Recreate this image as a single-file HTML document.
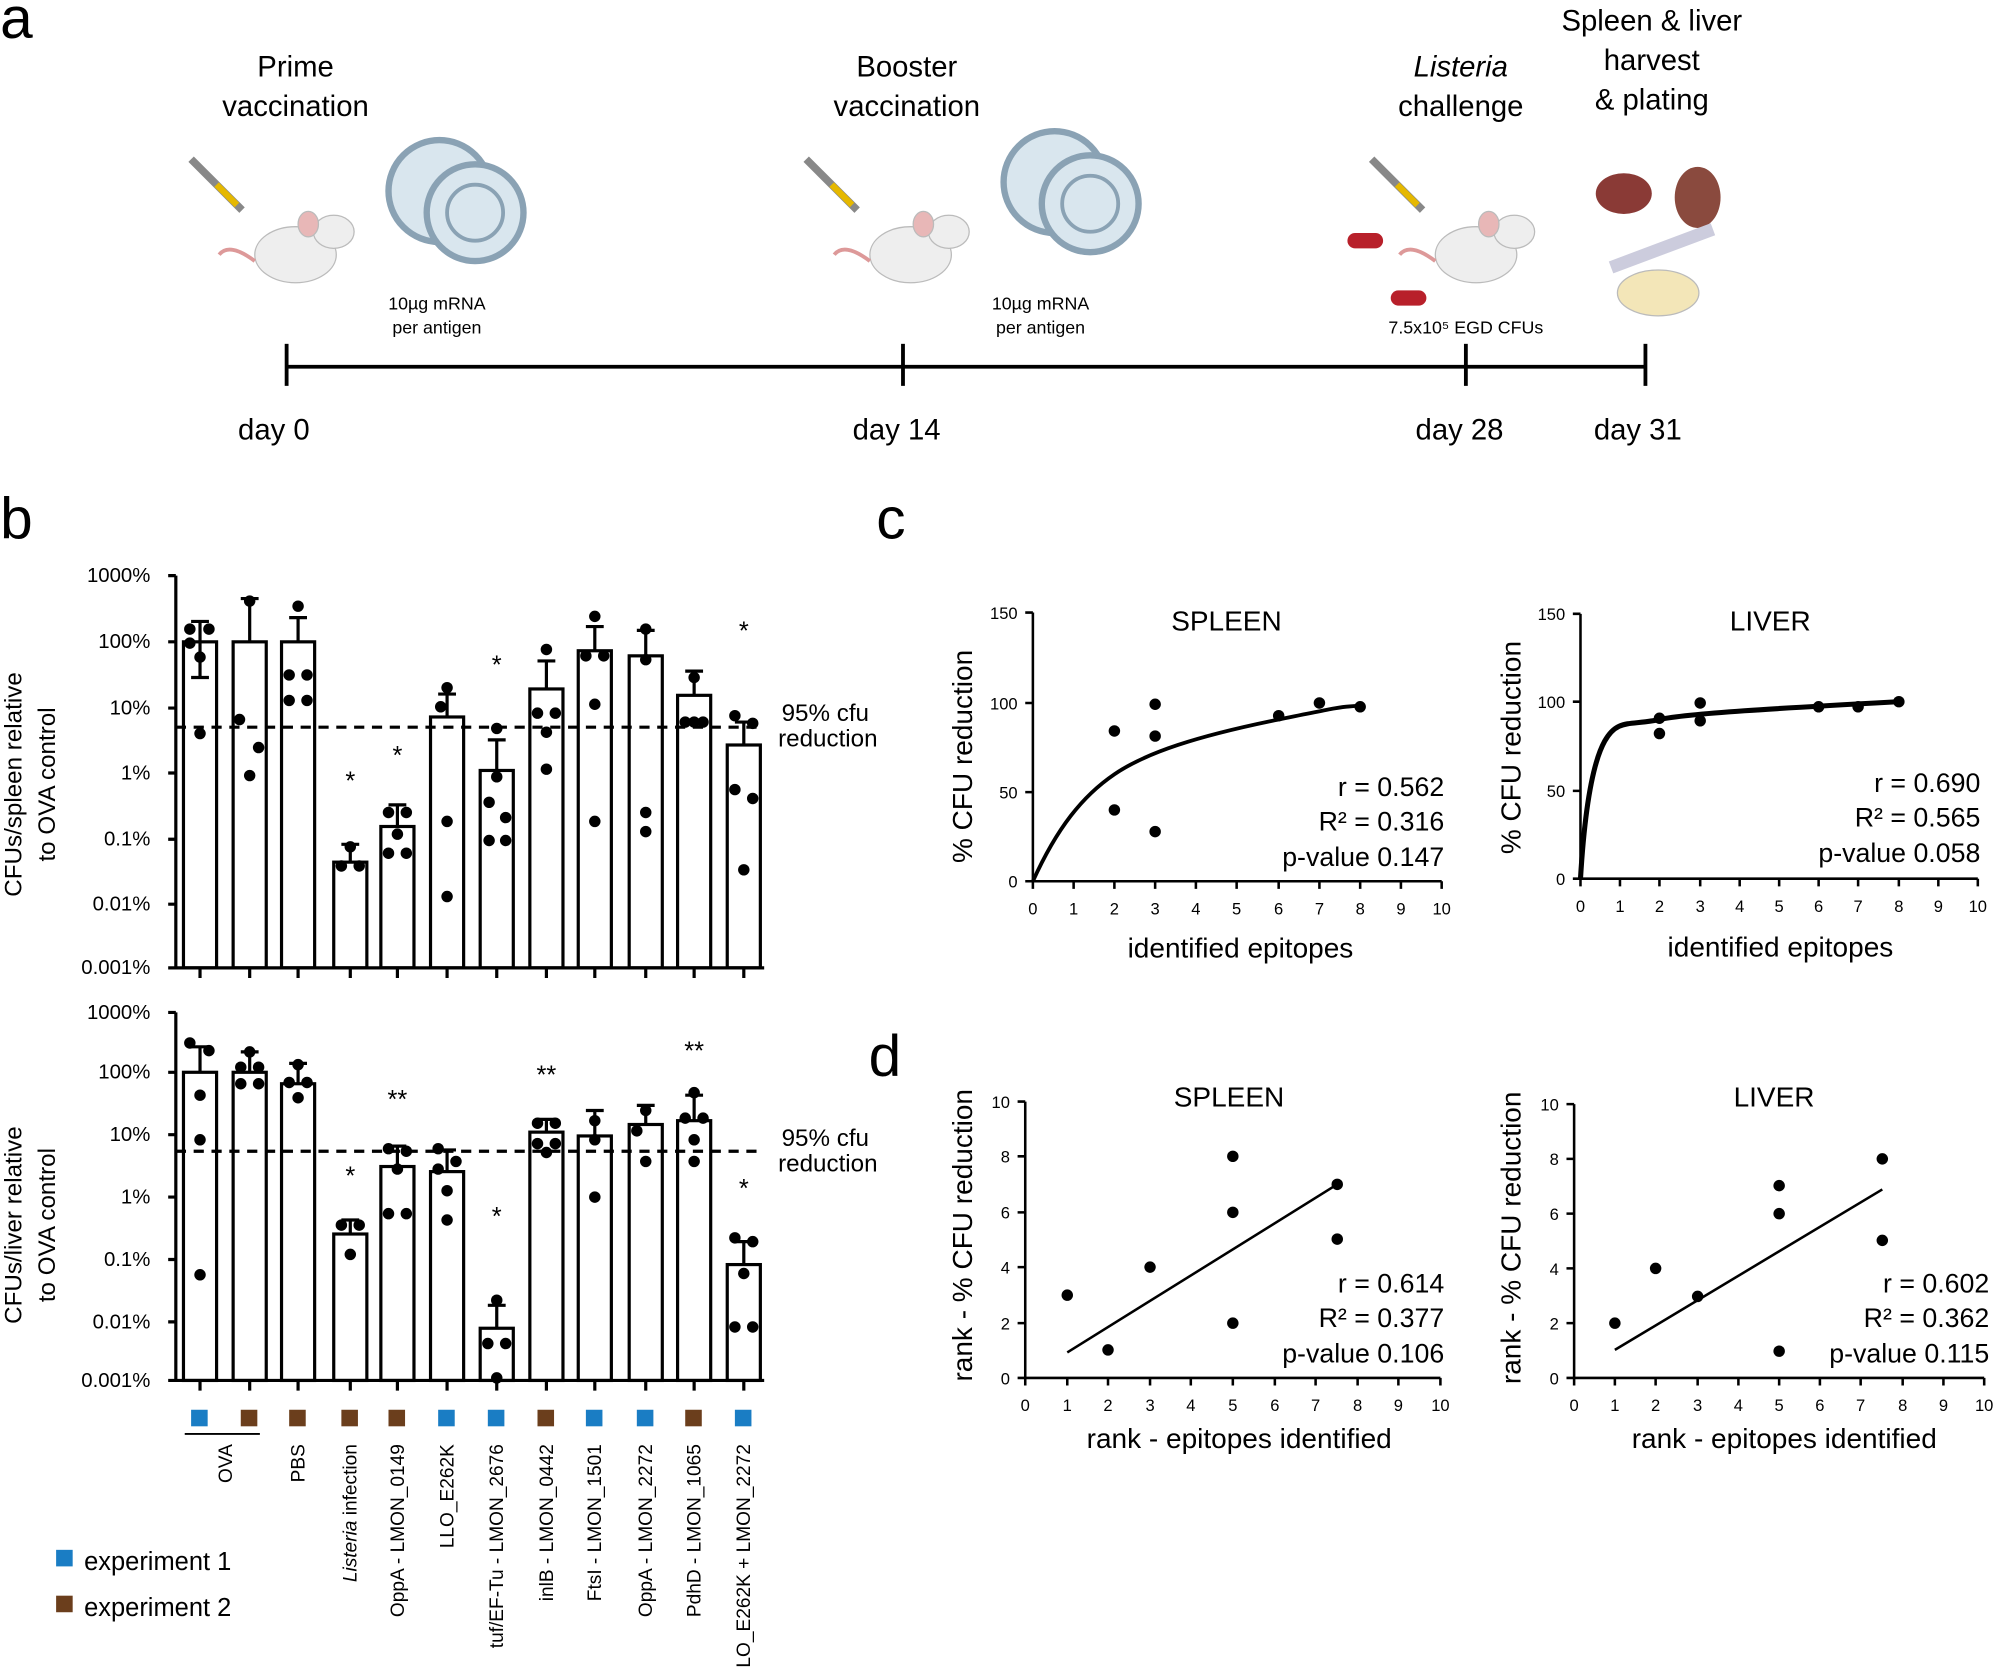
<!DOCTYPE html>
<html><head><meta charset="utf-8"><style>
html,body{margin:0;padding:0;background:#fff}
svg{display:block}
text{font-family:"Liberation Sans",sans-serif;fill:#000}
</style></head><body>
<svg width="1997" height="1667" viewBox="0 0 1568 1309" xmlns="http://www.w3.org/2000/svg">
<g font-size="46"><text x="0" y="30">a</text><text x="0" y="423">b</text><text x="688" y="423">c</text><text x="682" y="845">d</text></g>

<!-- panel a -->
<g font-size="23" text-anchor="middle">
<text x="232" y="60">Prime</text><text x="232" y="91">vaccination</text>
<text x="712" y="60">Booster</text><text x="712" y="91">vaccination</text>
<text x="1147" y="60" font-style="italic">Listeria</text><text x="1147" y="91">challenge</text>
<text x="1297" y="24">Spleen &amp; liver</text><text x="1297" y="55">harvest</text><text x="1297" y="86">&amp; plating</text>
<text x="215" y="345">day 0</text><text x="704" y="345">day 14</text><text x="1146" y="345">day 28</text><text x="1286" y="345">day 31</text>
</g>
<g font-size="14" text-anchor="middle">
<text x="343" y="243">10µg mRNA</text><text x="343" y="262">per antigen</text>
<text x="817" y="243">10µg mRNA</text><text x="817" y="262">per antigen</text>
<text x="1151" y="262">7.5x10⁵ EGD CFUs</text>
</g>
<g stroke="#000" stroke-width="3"><line x1="225" y1="288" x2="1292" y2="288"/>
<line x1="225" y1="270" x2="225" y2="303"/><line x1="709" y1="270" x2="709" y2="303"/><line x1="1151" y1="270" x2="1151" y2="303"/><line x1="1292" y1="270" x2="1292" y2="303"/></g>
<!-- mice & LNPs -->
<g id="mouse">
<ellipse cx="232" cy="200" rx="32" ry="22" fill="#eeeeee" stroke="#bbb"/>
<ellipse cx="262" cy="182" rx="16" ry="13" fill="#eeeeee" stroke="#bbb"/>
<ellipse cx="242" cy="176" rx="8" ry="10" fill="#e8b7b7" stroke="#bbb"/>
<path d="M200 205 Q180 190 172 200" stroke="#d99" stroke-width="3" fill="none"/>
<line x1="150" y1="125" x2="190" y2="165" stroke="#888" stroke-width="6"/>
<line x1="170" y1="145" x2="186" y2="161" stroke="#e5b800" stroke-width="5"/>
</g>
<use href="#mouse" x="483"/><use href="#mouse" x="927"/>
<g id="lnp" fill="#d9e6ee" stroke="#8aa2b4" stroke-width="5">
<circle cx="345" cy="150" r="40"/><circle cx="373" cy="167" r="38"/>
<circle cx="373" cy="167" r="22" fill="none" stroke-width="3"/></g>
<use href="#lnp" x="483" y="-7"/>
<g fill="#b8202a"><rect x="1058" y="183" width="28" height="12" rx="6"/><rect x="1092" y="228" width="28" height="12" rx="6"/></g>
<ellipse cx="1275" cy="152" rx="22" ry="16" fill="#8a3a36"/><ellipse cx="1333" cy="155" rx="18" ry="24" fill="#8a4a3e"/>
<ellipse cx="1302" cy="230" rx="32" ry="18" fill="#f3e6b8" stroke="#bbb"/>
<line x1="1265" y1="210" x2="1345" y2="180" stroke="#ccd" stroke-width="10"/>

<!-- panel b top -->
<g font-size="16" text-anchor="end">
<text x="118" y="457">1000%</text><text x="118" y="509">100%</text><text x="118" y="561">10%</text><text x="118" y="612">1%</text><text x="118" y="664">0.1%</text><text x="118" y="715">0.01%</text><text x="118" y="765">0.001%</text>
<text x="118" y="800">1000%</text><text x="118" y="847">100%</text><text x="118" y="896">10%</text><text x="118" y="945">1%</text><text x="118" y="994">0.1%</text><text x="118" y="1043">0.01%</text><text x="118" y="1089">0.001%</text>
</g>
<g font-size="19" text-anchor="middle">
<text transform="translate(17,616) rotate(-90)">CFUs/spleen relative</text>
<text transform="translate(43,616) rotate(-90)">to OVA control</text>
<text transform="translate(17,962) rotate(-90)">CFUs/liver relative</text>
<text transform="translate(43,962) rotate(-90)">to OVA control</text>
<text x="648" y="566">95% cfu</text><text x="650" y="586">reduction</text>
<text x="648" y="900">95% cfu</text><text x="650" y="920">reduction</text>
</g>
<g stroke="#000" stroke-width="2.5" fill="none">
<path d="M138 452V760H600"/><path d="M132 452H138M132 504H138M132 556H138M132 607H138M132 659H138M132 710H138M132 760H138"/>
<path d="M138 795V1084H600"/><path d="M132 795H138M132 842H138M132 891H138M132 940H138M132 989H138M132 1038H138M132 1084H138"/>
<path d="M157 760v8M196 760v8M234 760v8M275 760v8M312 760v8M351 760v8M390 760v8M429 760v8M467 760v8M507 760v8M545 760v8M584 760v8"/>
<path d="M157 1084v8M196 1084v8M234 1084v8M275 1084v8M312 1084v8M351 1084v8M390 1084v8M429 1084v8M467 1084v8M507 1084v8M545 1084v8M584 1084v8"/>
<!-- top bars -->
<rect x="144" y="504" width="26" height="256"/><rect x="183" y="504" width="26" height="256"/><rect x="221" y="504" width="26" height="256"/>
<rect x="262" y="677" width="26" height="83"/><rect x="299" y="649" width="26" height="111"/><rect x="338" y="563" width="26" height="197"/>
<rect x="377" y="605" width="26" height="155"/><rect x="416" y="541" width="26" height="219"/><rect x="454" y="511" width="26" height="249"/>
<rect x="494" y="515" width="26" height="245"/><rect x="532" y="546" width="26" height="214"/><rect x="571" y="585" width="26" height="175"/>
<path d="M157 504V488M150 488H164M157 504V532M150 532H164M196 504V470M189 470H203M234 504V485M227 485H241M275 677V663M268 663H282M312 649V632M305 632H319M351 563V545M344 545H358M390 605V581M383 581H397M429 541V519M422 519H436M467 511V492M460 492H474M507 515V495M500 495H514M545 546V527M538 527H552M584 585V567M577 567H591"/>
<!-- bottom bars -->
<rect x="144" y="842" width="26" height="242"/><rect x="183" y="842" width="26" height="242"/><rect x="221" y="851" width="26" height="233"/>
<rect x="262" y="969" width="26" height="115"/><rect x="299" y="916" width="26" height="168"/><rect x="338" y="920" width="26" height="164"/>
<rect x="377" y="1043" width="26" height="41"/><rect x="416" y="889" width="26" height="195"/><rect x="454" y="892" width="26" height="192"/>
<rect x="494" y="883" width="26" height="201"/><rect x="532" y="880" width="26" height="204"/><rect x="571" y="993" width="26" height="91"/>
<path d="M157 842V822M150 822H164M196 842V826M189 826H203M234 851V835M227 835H241M275 969V958M268 958H282M312 916V900M305 900H319M351 920V903M344 903H358M390 1043V1025M383 1025H397M429 889V879M422 879H436M467 892V872M460 872H474M507 883V868M500 868H514M545 880V860M538 860H552M584 993V975M577 975H591"/>
</g>
<g stroke="#000" stroke-width="2.5" stroke-dasharray="8,6"><line x1="138" y1="571" x2="600" y2="571"/><line x1="138" y1="904" x2="600" y2="904"/></g>
<g fill="#000">
<circle cx="149" cy="494" r="4.5"/><circle cx="164" cy="494" r="4.5"/><circle cx="157" cy="516" r="4.5"/><circle cx="157" cy="576" r="4.5"/><circle cx="149" cy="505" r="4.5"/>
<circle cx="196" cy="472" r="4.5"/><circle cx="188" cy="565" r="4.5"/><circle cx="203" cy="587" r="4.5"/><circle cx="196" cy="609" r="4.5"/>
<circle cx="234" cy="476" r="4.5"/><circle cx="227" cy="530" r="4.5"/><circle cx="241" cy="530" r="4.5"/><circle cx="227" cy="550" r="4.5"/><circle cx="241" cy="550" r="4.5"/>
<circle cx="275" cy="665" r="4.5"/><circle cx="268" cy="680" r="4.5"/><circle cx="282" cy="680" r="4.5"/>
<circle cx="305" cy="638" r="4.5"/><circle cx="319" cy="638" r="4.5"/><circle cx="312" cy="655" r="4.5"/><circle cx="305" cy="670" r="4.5"/><circle cx="319" cy="670" r="4.5"/>
<circle cx="351" cy="540" r="4.5"/><circle cx="346" cy="555" r="4.5"/><circle cx="351" cy="645" r="4.5"/><circle cx="351" cy="704" r="4.5"/>
<circle cx="390" cy="572" r="4.5"/><circle cx="390" cy="610" r="4.5"/><circle cx="384" cy="630" r="4.5"/><circle cx="397" cy="642" r="4.5"/><circle cx="384" cy="660" r="4.5"/><circle cx="397" cy="660" r="4.5"/>
<circle cx="429" cy="510" r="4.5"/><circle cx="422" cy="560" r="4.5"/><circle cx="436" cy="560" r="4.5"/><circle cx="429" cy="575" r="4.5"/><circle cx="429" cy="604" r="4.5"/>
<circle cx="467" cy="484" r="4.5"/><circle cx="460" cy="515" r="4.5"/><circle cx="474" cy="515" r="4.5"/><circle cx="467" cy="553" r="4.5"/><circle cx="467" cy="645" r="4.5"/>
<circle cx="507" cy="494" r="4.5"/><circle cx="507" cy="518" r="4.5"/><circle cx="507" cy="638" r="4.5"/><circle cx="507" cy="653" r="4.5"/>
<circle cx="545" cy="532" r="4.5"/><circle cx="538" cy="567" r="4.5"/><circle cx="545" cy="567" r="4.5"/><circle cx="552" cy="567" r="4.5"/>
<circle cx="577" cy="562" r="4.5"/><circle cx="591" cy="568" r="4.5"/><circle cx="577" cy="620" r="4.5"/><circle cx="591" cy="627" r="4.5"/><circle cx="584" cy="683" r="4.5"/>
<!-- bottom dots -->
<circle cx="149" cy="819" r="4.5"/><circle cx="164" cy="825" r="4.5"/><circle cx="157" cy="860" r="4.5"/><circle cx="157" cy="895" r="4.5"/><circle cx="157" cy="1001" r="4.5"/>
<circle cx="196" cy="826" r="4.5"/><circle cx="189" cy="838" r="4.5"/><circle cx="203" cy="838" r="4.5"/><circle cx="189" cy="851" r="4.5"/><circle cx="203" cy="851" r="4.5"/>
<circle cx="234" cy="836" r="4.5"/><circle cx="227" cy="850" r="4.5"/><circle cx="241" cy="850" r="4.5"/><circle cx="234" cy="862" r="4.5"/>
<circle cx="268" cy="962" r="4.5"/><circle cx="282" cy="962" r="4.5"/><circle cx="275" cy="985" r="4.5"/>
<circle cx="305" cy="902" r="4.5"/><circle cx="319" cy="904" r="4.5"/><circle cx="312" cy="918" r="4.5"/><circle cx="305" cy="953" r="4.5"/><circle cx="319" cy="953" r="4.5"/>
<circle cx="344" cy="902" r="4.5"/><circle cx="358" cy="912" r="4.5"/><circle cx="344" cy="918" r="4.5"/><circle cx="351" cy="935" r="4.5"/><circle cx="351" cy="958" r="4.5"/>
<circle cx="390" cy="1021" r="4.5"/><circle cx="383" cy="1055" r="4.5"/><circle cx="397" cy="1055" r="4.5"/><circle cx="390" cy="1082" r="4.5"/>
<circle cx="422" cy="882" r="4.5"/><circle cx="436" cy="882" r="4.5"/><circle cx="422" cy="898" r="4.5"/><circle cx="436" cy="898" r="4.5"/><circle cx="429" cy="905" r="4.5"/>
<circle cx="467" cy="895" r="4.5"/><circle cx="467" cy="940" r="4.5"/><circle cx="467" cy="880" r="4.5"/>
<circle cx="507" cy="872" r="4.5"/><circle cx="500" cy="888" r="4.5"/><circle cx="507" cy="912" r="4.5"/>
<circle cx="545" cy="858" r="4.5"/><circle cx="538" cy="878" r="4.5"/><circle cx="552" cy="878" r="4.5"/><circle cx="545" cy="895" r="4.5"/><circle cx="545" cy="912" r="4.5"/>
<circle cx="577" cy="972" r="4.5"/><circle cx="591" cy="975" r="4.5"/><circle cx="584" cy="1000" r="4.5"/><circle cx="577" cy="1042" r="4.5"/><circle cx="591" cy="1042" r="4.5"/>
</g>
<g font-size="20" text-anchor="middle">
<text x="275" y="620">*</text><text x="312" y="600">*</text><text x="390" y="529">*</text><text x="584" y="502">*</text>
<text x="275" y="930">*</text><text x="312" y="870">**</text><text x="390" y="962">*</text><text x="429" y="851">**</text><text x="545" y="832">**</text><text x="584" y="940">*</text>
</g>
<!-- legend squares -->
<g>
<rect x="150" y="1107" width="13" height="13" fill="#1a7dc4"/><rect x="189" y="1107" width="13" height="13" fill="#6b3e1c"/><rect x="227" y="1107" width="13" height="13" fill="#6b3e1c"/>
<rect x="268" y="1107" width="13" height="13" fill="#6b3e1c"/><rect x="305" y="1107" width="13" height="13" fill="#6b3e1c"/><rect x="344" y="1107" width="13" height="13" fill="#1a7dc4"/>
<rect x="383" y="1107" width="13" height="13" fill="#1a7dc4"/><rect x="422" y="1107" width="13" height="13" fill="#6b3e1c"/><rect x="460" y="1107" width="13" height="13" fill="#1a7dc4"/>
<rect x="500" y="1107" width="13" height="13" fill="#1a7dc4"/><rect x="538" y="1107" width="13" height="13" fill="#6b3e1c"/><rect x="577" y="1107" width="13" height="13" fill="#1a7dc4"/>
<rect x="44" y="1217" width="13" height="13" fill="#1a7dc4"/><rect x="44" y="1253" width="13" height="13" fill="#6b3e1c"/>
</g>
<line x1="145" y1="1126" x2="204" y2="1126" stroke="#000" stroke-width="1.5"/>
<g font-size="15" text-anchor="end">
<text transform="translate(182,1134) rotate(-90)">OVA</text>
<text transform="translate(239,1134) rotate(-90)">PBS</text>
<text transform="translate(280,1134) rotate(-90)"><tspan font-style="italic">Listeria</tspan> infection</text>
<text transform="translate(317,1134) rotate(-90)">OppA - LMON_0149</text>
<text transform="translate(356,1134) rotate(-90)">LLO_E262K</text>
<text transform="translate(395,1134) rotate(-90)">tuf/EF-Tu - LMON_2676</text>
<text transform="translate(434,1134) rotate(-90)">inlB - LMON_0442</text>
<text transform="translate(472,1134) rotate(-90)">FtsI - LMON_1501</text>
<text transform="translate(512,1134) rotate(-90)">OppA - LMON_2272</text>
<text transform="translate(550,1134) rotate(-90)">PdhD - LMON_1065</text>
<text transform="translate(589,1134) rotate(-90)">LLO_E262K + LMON_2272</text>
</g>
<g font-size="20"><text x="66" y="1233">experiment 1</text><text x="66" y="1269">experiment 2</text></g>

<!-- panel c/d axes -->
<g stroke="#000" stroke-width="2" fill="none">
<path d="M811 481V692H1132"/><path d="M805 481H811M805 552H811M805 622H811M805 692H811"/>
<path d="M811 692v6M843 692v6M875 692v6M907 692v6M939 692v6M971 692v6M1004 692v6M1036 692v6M1068 692v6M1100 692v6M1132 692v6"/>
<path d="M1241 482V690H1553"/><path d="M1235 482H1241M1235 551H1241M1235 621H1241M1235 690H1241"/>
<path d="M1241 690v6M1272 690v6M1303 690v6M1335 690v6M1366 690v6M1397 690v6M1428 690v6M1459 690v6M1491 690v6M1522 690v6M1553 690v6"/>
<path d="M805 865V1082H1131"/><path d="M799 865H805M799 908H805M799 952H805M799 995H805M799 1039H805M799 1082H805"/>
<path d="M805 1082v6M838 1082v6M870 1082v6M903 1082v6M935 1082v6M968 1082v6M1001 1082v6M1033 1082v6M1066 1082v6M1098 1082v6M1131 1082v6"/>
<path d="M1236 867V1082H1558"/><path d="M1230 867H1236M1230 910H1236M1230 953H1236M1230 996H1236M1230 1039H1236M1230 1082H1236"/>
<path d="M1236 1082v6M1268 1082v6M1300 1082v6M1333 1082v6M1365 1082v6M1397 1082v6M1429 1082v6M1461 1082v6M1494 1082v6M1526 1082v6M1558 1082v6"/>
<path stroke-width="3" d="M811 692 C830 650 850 625 875 608 S940 578 1004 565 S1050 556 1068 554"/>
<path stroke-width="4" d="M1241 690 C1244 640 1250 600 1260 582 S1280 570 1303 565 S1400 556 1491 551"/>
<path d="M838 1062L1050 930"/><path d="M1268 1060L1478 934"/>
</g>
<g font-size="13" text-anchor="middle">
<text x="811" y="718">0</text><text x="843" y="718">1</text><text x="875" y="718">2</text><text x="907" y="718">3</text><text x="939" y="718">4</text><text x="971" y="718">5</text><text x="1004" y="718">6</text><text x="1036" y="718">7</text><text x="1068" y="718">8</text><text x="1100" y="718">9</text><text x="1132" y="718">10</text>
<text x="1241" y="716">0</text><text x="1272" y="716">1</text><text x="1303" y="716">2</text><text x="1335" y="716">3</text><text x="1366" y="716">4</text><text x="1397" y="716">5</text><text x="1428" y="716">6</text><text x="1459" y="716">7</text><text x="1491" y="716">8</text><text x="1522" y="716">9</text><text x="1553" y="716">10</text>
<text x="805" y="1108">0</text><text x="838" y="1108">1</text><text x="870" y="1108">2</text><text x="903" y="1108">3</text><text x="935" y="1108">4</text><text x="968" y="1108">5</text><text x="1001" y="1108">6</text><text x="1033" y="1108">7</text><text x="1066" y="1108">8</text><text x="1098" y="1108">9</text><text x="1131" y="1108">10</text>
<text x="1236" y="1108">0</text><text x="1268" y="1108">1</text><text x="1300" y="1108">2</text><text x="1333" y="1108">3</text><text x="1365" y="1108">4</text><text x="1397" y="1108">5</text><text x="1429" y="1108">6</text><text x="1461" y="1108">7</text><text x="1494" y="1108">8</text><text x="1526" y="1108">9</text><text x="1558" y="1108">10</text>
</g>
<g font-size="13" text-anchor="end">
<text x="799" y="486">150</text><text x="799" y="557">100</text><text x="799" y="627">50</text><text x="799" y="697">0</text>
<text x="1229" y="487">150</text><text x="1229" y="556">100</text><text x="1229" y="626">50</text><text x="1229" y="695">0</text>
<text x="793" y="870">10</text><text x="793" y="913">8</text><text x="793" y="957">6</text><text x="793" y="1000">4</text><text x="793" y="1044">2</text><text x="793" y="1087">0</text>
<text x="1224" y="872">10</text><text x="1224" y="915">8</text><text x="1224" y="958">6</text><text x="1224" y="1001">4</text><text x="1224" y="1044">2</text><text x="1224" y="1087">0</text>
</g>
<g font-size="22" text-anchor="middle">
<text x="963" y="495">SPLEEN</text><text x="1390" y="495">LIVER</text><text x="965" y="869">SPLEEN</text><text x="1393" y="869">LIVER</text>
<text x="974" y="752">identified epitopes</text><text x="1398" y="751">identified epitopes</text>
<text x="973" y="1137">rank - epitopes identified</text><text x="1401" y="1137">rank - epitopes identified</text>
<text transform="translate(763,594) rotate(-90)">% CFU reduction</text>
<text transform="translate(1194,587) rotate(-90)">% CFU reduction</text>
<text transform="translate(763,970) rotate(-90)">rank - % CFU reduction</text>
<text transform="translate(1194,972) rotate(-90)">rank - % CFU reduction</text>
</g>
<g font-size="21" text-anchor="end">
<text x="1134" y="625">r = 0.562</text><text x="1134" y="652">R² = 0.316</text><text x="1134" y="680">p-value 0.147</text>
<text x="1555" y="622">r = 0.690</text><text x="1555" y="649">R² = 0.565</text><text x="1555" y="677">p-value 0.058</text>
<text x="1134" y="1015">r = 0.614</text><text x="1134" y="1042">R² = 0.377</text><text x="1134" y="1070">p-value 0.106</text>
<text x="1562" y="1015">r = 0.602</text><text x="1562" y="1042">R² = 0.362</text><text x="1562" y="1070">p-value 0.115</text>
</g>
<g fill="#000">
<circle cx="875" cy="574" r="4.5"/><circle cx="875" cy="636" r="4.5"/><circle cx="907" cy="553" r="4.5"/><circle cx="907" cy="578" r="4.5"/><circle cx="907" cy="653" r="4.5"/><circle cx="1004" cy="562" r="4.5"/><circle cx="1036" cy="552" r="4.5"/><circle cx="1068" cy="555" r="4.5"/>
<circle cx="1303" cy="564" r="4.5"/><circle cx="1303" cy="576" r="4.5"/><circle cx="1335" cy="552" r="4.5"/><circle cx="1335" cy="566" r="4.5"/><circle cx="1428" cy="555" r="4.5"/><circle cx="1459" cy="555" r="4.5"/><circle cx="1491" cy="551" r="4.5"/>
<circle cx="838" cy="1017" r="4.5"/><circle cx="870" cy="1060" r="4.5"/><circle cx="903" cy="995" r="4.5"/><circle cx="968" cy="908" r="4.5"/><circle cx="968" cy="952" r="4.5"/><circle cx="968" cy="1039" r="4.5"/><circle cx="1050" cy="930" r="4.5"/><circle cx="1050" cy="973" r="4.5"/>
<circle cx="1268" cy="1039" r="4.5"/><circle cx="1300" cy="996" r="4.5"/><circle cx="1333" cy="1018" r="4.5"/><circle cx="1397" cy="931" r="4.5"/><circle cx="1397" cy="953" r="4.5"/><circle cx="1397" cy="1061" r="4.5"/><circle cx="1478" cy="910" r="4.5"/><circle cx="1478" cy="974" r="4.5"/>
</g>
</svg>
</body></html>
